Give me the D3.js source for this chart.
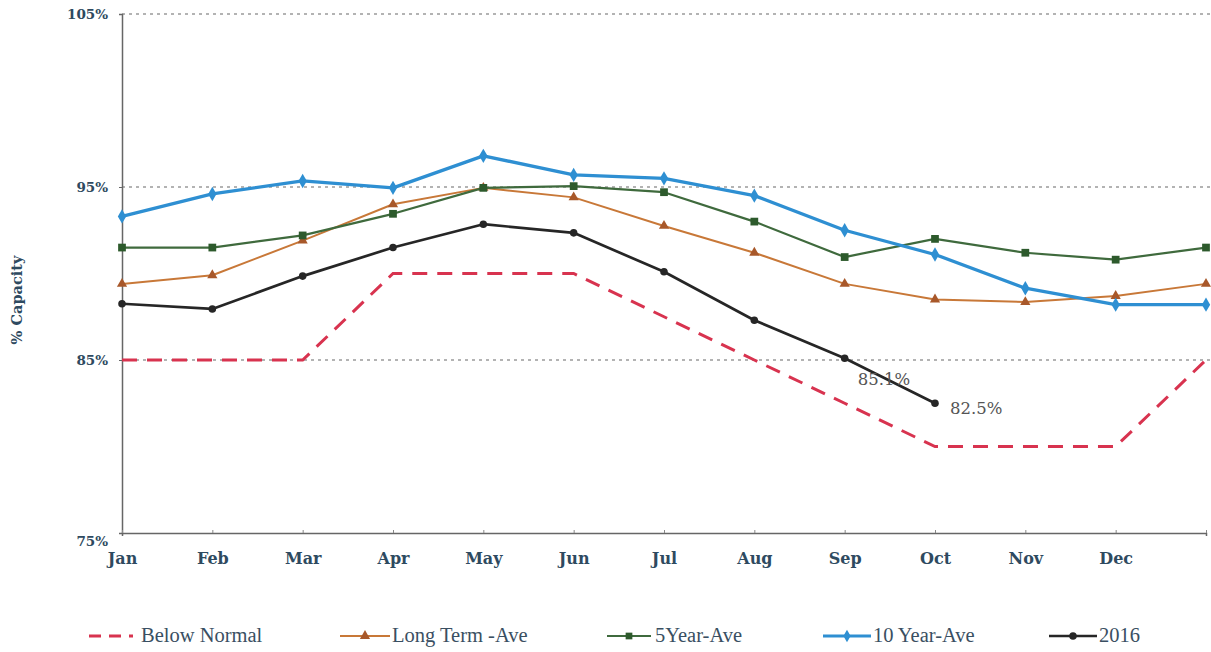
<!DOCTYPE html>
<html><head><meta charset="utf-8">
<script src="https://cdn.jsdelivr.net/npm/d3@7"></script>
<style>body{margin:0;background:#fff}svg{display:block}</style>
</head><body><svg id="c" width="1211" height="652"></svg>
<script>
const months = ["Jan","Feb","Mar","Apr","May","Jun","Jul","Aug","Sep","Oct","Nov","Dec","Jan2"];
const monthLabels = ["Jan","Feb","Mar","Apr","May","Jun","Jul","Aug","Sep","Oct","Nov","Dec",""];
const yTicks = [75,85,95,105];
const belowNormal = [85,85,85,90,90,90,87.5,85,82.5,80,80,80,85];
const longTermAve = [89.4,89.9,91.9,94.0,94.95,94.4,92.75,91.2,89.4,88.5,88.35,88.7,89.4];
const fiveYearAve = [91.5,91.5,92.2,93.45,94.95,95.05,94.7,93.0,90.95,92.0,91.2,90.8,91.5];
const tenYearAve = [93.3,94.6,95.35,94.95,96.8,95.7,95.5,94.5,92.5,91.1,89.15,88.2,88.2];
const y2016 = [88.25,87.95,89.85,91.5,92.85,92.35,90.1,87.3,85.1,82.5];
const annotations = [{i:8,v:85.1,text:"85.1%"},{i:9,v:82.5,text:"82.5%"}];

const svg = d3.select("#c");
const x = d3.scalePoint().domain(months).range([122,1206]);
const y = d3.scaleLinear().domain([75,105]).range([533,14]);
const serif = "'DejaVu Serif', 'Liberation Serif', serif";
const axisColor = "#2e4a60";

// grid
svg.append("g").selectAll("line").data(yTicks.filter(d=>d>75)).join("line")
  .attr("x1",122).attr("x2",1211).attr("y1",d=>y(d)).attr("y2",d=>y(d))
  .attr("stroke","#9a9a9a").attr("stroke-width",1.3).attr("stroke-dasharray","3,4");

// axes
const yAxis = svg.append("g").attr("transform","translate(122,0)")
  .call(d3.axisLeft(y).tickValues(yTicks).tickFormat(d=>d+"%").tickSize(3));
yAxis.select(".domain").attr("stroke","#666").attr("stroke-width",1.5);
yAxis.selectAll(".tick line").attr("stroke","#666");
yAxis.selectAll("text").attr("font-family",serif).attr("font-weight","bold")
  .attr("font-size",13.5).attr("fill",axisColor).attr("dx",-8);
yAxis.selectAll(".tick").filter(d=>d===75).select("text").attr("dy","0.9em");

const xAxis = svg.append("g").attr("transform","translate(0,533)")
  .call(d3.axisBottom(x).tickFormat((d,i)=>monthLabels[i]).tickSize(3));
xAxis.select(".domain").attr("stroke","#666").attr("stroke-width",1.5);
xAxis.selectAll(".tick line").attr("stroke","#888").attr("y2",-3);
xAxis.selectAll("text").attr("font-family",serif).attr("font-weight","bold")
  .attr("font-size",16).attr("fill",axisColor).attr("dy","1.55em");

svg.append("text").attr("transform","translate(22,300) rotate(-90)")
  .attr("text-anchor","middle").attr("font-family",serif).attr("font-weight","bold")
  .attr("font-size",14.5).attr("fill",axisColor).text("% Capacity");

const line = d3.line().x((d,i)=>x(months[i])).y(d=>y(d));

// below normal
svg.append("path").datum(belowNormal).attr("d",line).attr("fill","none")
  .attr("stroke","#d8334f").attr("stroke-width",3).attr("stroke-dasharray","15,10");

function series(data,color,width,marker,mcolor,msize){
  svg.append("path").datum(data).attr("d",line).attr("fill","none")
    .attr("stroke",color).attr("stroke-width",width).attr("stroke-linejoin","round");
  svg.append("g").selectAll("path").data(data).join("path")
    .attr("transform",(d,i)=>`translate(${x(months[i])},${y(d)})`)
    .attr("d",d3.symbol().type(marker).size(msize)).attr("fill",mcolor);
}
series(longTermAve,"#c87838",2,d3.symbolTriangle,"#a8582a",45);
series(fiveYearAve,"#3f6a3d",2.2,d3.symbolSquare,"#2d5a2c",60);
series(tenYearAve,"#2e8fd2",3.3,d3.symbolDiamond,"#2e8fd2",60);
series(y2016,"#262626",2.7,d3.symbolCircle,"#262626",45);

svg.append("g").selectAll("text").data(annotations).join("text")
  .attr("x",d=>x(months[d.i])+(d.i===8?13:15)).attr("y",d=>y(d.v)+(d.i===8?27:11))
  .attr("font-family",serif).attr("font-size",16.5).attr("fill","#555").text(d=>d.text);

// legend
const legend = [
  {name:"Below Normal",x:89,len:44,tx:52,color:"#d8334f",dash:"12,8",w:3,marker:null},
  {name:"Long Term -Ave",x:340,len:50,tx:52,color:"#c87838",w:2,marker:d3.symbolTriangle,mc:"#a8582a"},
  {name:"5Year-Ave",x:607,len:44,tx:48,color:"#3f6a3d",w:2,marker:d3.symbolSquare,mc:"#2d5a2c"},
  {name:"10 Year-Ave",x:823,len:48,tx:50,color:"#2e8fd2",w:3,marker:d3.symbolDiamond,mc:"#2e8fd2"},
  {name:"2016",x:1049,len:48,tx:50,color:"#262626",w:2.5,marker:d3.symbolCircle,mc:"#262626"}
];
const lg = svg.append("g").selectAll("g").data(legend).join("g")
  .attr("transform",d=>`translate(${d.x},636)`);
lg.append("line").attr("x1",0).attr("x2",d=>d.len).attr("stroke",d=>d.color)
  .attr("stroke-width",d=>d.w).attr("stroke-dasharray",d=>d.dash||null);
lg.filter(d=>d.marker).append("path").attr("transform",d=>`translate(${d.len/2},0)`)
  .attr("d",d=>d3.symbol().type(d.marker).size(45)()).attr("fill",d=>d.mc);
lg.append("text").attr("x",d=>d.tx).attr("y",6).attr("font-family","'Liberation Serif', serif")
  .attr("font-size",20.5).attr("fill","#3a4f62").text(d=>d.name);
</script></body></html>
